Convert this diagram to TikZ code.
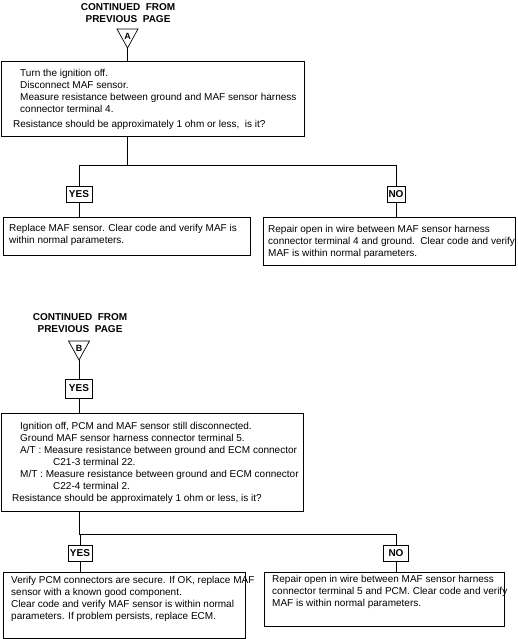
\documentclass[tikz,border=0pt]{standalone}
\usepackage{fontspec}
\setmainfont{Liberation Sans}
\begin{document}
\begin{tikzpicture}[x=1pt,y=-1pt,
  every node/.style={font=\fontsize{10}{12}\selectfont},
  box/.style={draw, line width=0.7pt, anchor=north west, inner sep=0pt},
  txt/.style={anchor=north west, inner sep=0pt, align=left},
  lbl/.style={draw, line width=0.7pt, font=\bfseries\fontsize{10}{12}\selectfont, inner sep=0pt, minimum height=16pt},
  head/.style={font=\bfseries\fontsize{10}{12}\selectfont, align=center, inner sep=0pt},
  tri/.style={draw, line width=0.7pt},
  trilbl/.style={font=\bfseries\fontsize{9}{10}\selectfont, inner sep=0pt},
  conn/.style={line width=0.7pt}]
\useasboundingbox (0,0) rectangle (518,639);

% ---------- Section A ----------
\node[head] (contA) at (128,13) {CONTINUED\ \ FROM\\PREVIOUS\ \ PAGE};
\draw[tri] (117,29) -- (138,29) -- (127.5,48) -- cycle;
\node[trilbl] (labA) at (127.5,36) {A};
\coordinate (apexA) at (127.5,48);

\node[box, minimum width=303pt, minimum height=75pt] (b1) at (1,61) {};
\node[txt] (t1) at (13,69.5) {\hspace*{7pt}Turn the ignition off.\\
\hspace*{7pt}Disconnect MAF sensor.\\
\hspace*{7pt}Measure resistance between ground and MAF sensor harness\\
\hspace*{7pt}connector terminal 4.\\[3pt]
Resistance should be approximately 1 ohm or less,\ \ is it?};

\coordinate (sA) at (127.5,165);
\coordinate (sAl) at (79,165);
\coordinate (sAr) at (396,165);

\node[lbl, minimum width=26pt] (yes1) at (79,194) {YES};
\node[lbl, minimum width=18pt] (no1) at (396,194) {NO};

\node[box, minimum width=247pt, minimum height=38pt] (r1l) at (3,217) {};
\node[txt] (tr1l) at (9,224) {Replace MAF sensor. Clear code and verify MAF is\\within normal parameters.};

\node[box, minimum width=252pt, minimum height=48pt] (r1r) at (263,217) {};
\node[txt] (tr1r) at (268,225) {Repair open in wire between MAF sensor harness\\connector terminal 4 and ground.\ \ Clear code and verify\\MAF is within normal parameters.};

\draw[conn] (apexA) -- (apexA |- b1.north);
\draw[conn] (b1.south -| apexA) -- (sA);
\draw[conn] (sAl) -- (sAr);
\draw[conn] (sAl) -- (yes1.north);
\draw[conn] (sAr) -- (no1.north);
\draw[conn] (yes1.south) -- (yes1.south |- r1l.north);
\draw[conn] (no1.south) -- (no1.south |- r1r.north);

% ---------- Section B ----------
\node[head] (contB) at (80,323) {CONTINUED\ \ FROM\\PREVIOUS\ \ PAGE};
\draw[tri] (68.5,341) -- (89.5,341) -- (79,360) -- cycle;
\node[trilbl] (labB) at (79,348) {B};
\coordinate (apexB) at (79,360);

\node[lbl, minimum width=27pt, minimum height=19pt] (yes0) at (79,388.5) {YES};

\node[box, minimum width=302pt, minimum height=98pt] (b2) at (1,413) {};
\node[txt] (t2) at (12,422) {\hspace*{8pt}Ignition off, PCM and MAF sensor still disconnected.\\
\hspace*{8pt}Ground MAF sensor harness connector terminal 5.\\
\hspace*{8pt}A/T : Measure resistance between ground and ECM connector\\
\hspace*{41pt}C21-3 terminal 22.\\
\hspace*{8pt}M/T : Measure resistance between ground and ECM connector\\
\hspace*{41pt}C22-4 terminal 2.\\
Resistance should be approximately 1 ohm or less, is it?};

\coordinate (sB) at (79,534);
\coordinate (sBr) at (396,534);

\node[lbl, minimum width=24pt] (yes2) at (80,553.5) {YES};
\node[lbl, minimum width=25pt] (no2) at (396,553.5) {NO};

\node[box, minimum width=242pt, minimum height=66pt] (r2l) at (3,572) {};
\node[txt] (tr2l) at (11,576) {Verify PCM connectors are secure. If OK, replace MAF\\sensor with a known good component.\\Clear code and verify MAF sensor is within normal\\parameters. If problem persists, replace ECM.};

\node[box, minimum width=240pt, minimum height=54pt] (r2r) at (264,572) {};
\node[txt] (tr2r) at (272,575) {Repair open in wire between MAF sensor harness\\connector terminal 5 and PCM. Clear code and verify\\MAF is within normal parameters.};

\draw[conn] (apexB) -- (yes0.north);
\draw[conn] (yes0.south) -- (yes0.south |- b2.north);
\draw[conn] (b2.south -| apexB) -- (sB);
\draw[conn] (sB) -- (sBr);
\draw[conn] (yes2.north |- sB) -- (yes2.north);
\draw[conn] (sBr) -- (no2.north);
\draw[conn] (yes2.south) -- (yes2.south |- r2l.north);
\draw[conn] (no2.south) -- (no2.south |- r2r.north);
\end{tikzpicture}
\end{document}
